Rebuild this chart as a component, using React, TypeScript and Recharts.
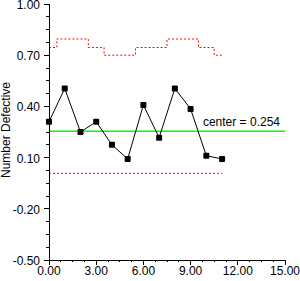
import { Line, LineChart, ReferenceLine, XAxis, YAxis } from "recharts";

const SAMPLES = [0, 1, 2, 3, 4, 5, 6, 7, 8, 9, 10, 11];
const DEFECT_RATE = [0.31, 0.505, 0.25, 0.31, 0.175, 0.092, 0.408, 0.217, 0.505, 0.385, 0.111, 0.092];
const UCL = [0.745, 0.795, 0.795, 0.745, 0.70, 0.70, 0.745, 0.745, 0.795, 0.795, 0.745, 0.70];
const LCL = [0.008, 0.008, 0.008, 0.008, 0.008, 0.008, 0.008, 0.008, 0.008, 0.008, 0.008, 0.008];
const CENTER = 0.254;

const X_TICKS = [0, 0.75, 1.5, 2.25, 3, 3.75, 4.5, 5.25, 6, 6.75, 7.5, 8.25, 9, 9.75, 10.5, 11.25, 12, 12.75, 13.5, 14.25, 15];
const Y_TICKS = [-0.5, -0.425, -0.35, -0.275, -0.2, -0.125, -0.05, 0.025, 0.1, 0.175, 0.25, 0.325, 0.4, 0.475, 0.55, 0.625, 0.7, 0.775, 0.85, 0.925, 1.0];

const FONT = "'Liberation Sans', Arial, sans-serif";

const data = SAMPLES.map((x, i) => ({
  x,
  p: DEFECT_RATE[i],
  ucl: UCL[i],
  lcl: LCL[i],
}));

function XTick(props: any) {
  const { x, y, index, payload } = props;
  const major = index % 4 === 0;
  return (
    <g>
      <line x1={x} x2={x} y1={y} y2={y + (major ? 5 : 2)} stroke="#000" shapeRendering="crispEdges" />
      {major && (
        <text x={x} y={y + 15} textAnchor="middle" fontSize={12} fontFamily={FONT} fill="#000">
          {Number(payload.value).toFixed(2)}
        </text>
      )}
    </g>
  );
}

function YTick(props: any) {
  const { x, y, index, payload } = props;
  const major = index % 4 === 0;
  return (
    <g>
      <line x1={x - (major ? 5 : 3)} x2={x} y1={y} y2={y} stroke="#000" shapeRendering="crispEdges" />
      {major && (
        <text x={x - 9} y={y + 5} textAnchor="end" fontSize={12} fontFamily={FONT} fill="#000">
          {Number(payload.value).toFixed(2)}
        </text>
      )}
    </g>
  );
}

function SquareDot(props: any) {
  const { cx, cy } = props;
  if (cx == null || cy == null) return null;
  return <rect x={cx - 3} y={cy - 3} width={6} height={6} rx={1} fill="#000" />;
}

export default function App() {
  return (
    <div style={{ position: "absolute", left: 0, top: 0, background: "#fff" }}>
      <LineChart
        width={300}
        height={281}
        data={data}
        margin={{ top: 4, right: 15, bottom: 0, left: 0 }}
      >
        <XAxis
          dataKey="x"
          type="number"
          domain={[0, 15]}
          ticks={X_TICKS}
          interval={0}
          height={21}
          tickSize={0}
          tickMargin={0}
          tickLine={false}
          axisLine={{ stroke: "#000", shapeRendering: "crispEdges" }}
          tick={<XTick />}
        />
        <YAxis
          type="number"
          domain={[-0.5, 1.0]}
          ticks={Y_TICKS}
          interval={0}
          width={49}
          tickSize={0}
          tickMargin={0}
          tickLine={false}
          axisLine={{ stroke: "#000", shapeRendering: "crispEdges" }}
          tick={<YTick />}
          label={() => (
            <text
              x={10}
              y={130}
              transform="rotate(-90 10 130)"
              textAnchor="middle"
              fontSize={12}
              fontFamily={FONT}
              fill="#000"
            >
              Number Defective
            </text>
          )}
        />
        <ReferenceLine
          y={CENTER}
          stroke="#00ff00"
          strokeWidth={1.5}
          label={{
            value: `center = ${CENTER}`,
            position: "insideBottomRight",
            fontSize: 12,
            fontFamily: FONT,
            fill: "#000",
          }}
        />
        <Line
          dataKey="ucl"
          type="step"
          stroke="#ff0000"
          strokeDasharray="2 2"
          dot={false}
          isAnimationActive={false}
        />
        <Line
          dataKey="lcl"
          type="linear"
          stroke="#ff0000"
          strokeDasharray="2 2"
          dot={false}
          isAnimationActive={false}
        />
        <Line
          dataKey="p"
          type="linear"
          stroke="#000"
          strokeWidth={1}
          dot={<SquareDot />}
          isAnimationActive={false}
        />
      </LineChart>
    </div>
  );
}
